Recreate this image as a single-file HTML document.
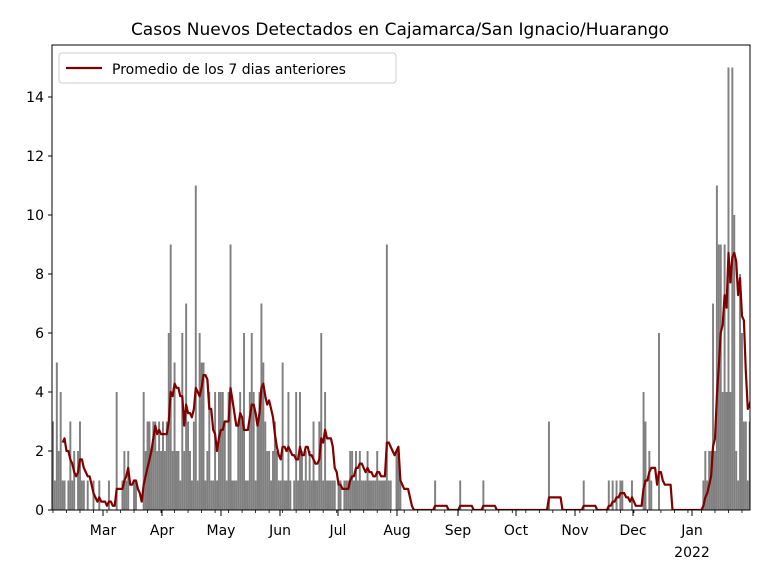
<!DOCTYPE html>
<html><head><meta charset="utf-8"><style>
body{margin:0;background:#fff;font-family:"Liberation Sans","DejaVu Sans",sans-serif}
</style></head><body>
<svg id="s" width="768" height="576" xmlns="http://www.w3.org/2000/svg" font-family="DejaVu Sans, Liberation Sans, sans-serif">
<defs><clipPath id="c"><rect x="52" y="45" width="698" height="465"/></clipPath></defs>
<rect width="768" height="576" fill="#fff"/>
<text x="400" y="35" font-size="17" text-anchor="middle">Casos Nuevos Detectados en Cajamarca/San Ignacio/Huarango</text>
<g clip-path="url(#c)">
<g id="bars" fill="#808080"></g>
<polyline id="avg" fill="none" stroke="#800000" stroke-width="2.2" stroke-linejoin="round"/>
</g>
<rect x="52" y="45" width="698" height="465" fill="none" stroke="#000" stroke-width="1"/>
<g id="ticks" font-size="14"></g>
<rect x="59" y="53" width="337" height="30" rx="3" fill="#fff" fill-opacity="0.8" stroke="#ccc"/>
<line x1="66" y1="68" x2="102" y2="68" stroke="#800000" stroke-width="2.2"/>
<text x="112" y="74" font-size="14">Promedio de los 7 dias anteriores</text>
</svg>
<script>
var d=[].concat(
[3,1,5,2,4,1,1,0,1,3,1,2,0,2,3,1,1,0,1,0,0,1,0,0,1,0,0],
[0,0,1,0,0,0,4,0,0,1,2,1,2,0,0,1,1,0,0,0,4,2,3,3,2,3,3,2,3,2,3],
[2,3,6,9,2,5,2,2,1,6,2,7,3,2,1,3,11,1,6,5,5,1,2,4,1,1,4,1,4,4],
[4,3,1,4,9,1,1,1,3,4,3,6,1,1,4,6,4,1,3,4,7,5,3,2,2,1,2,3,2,1,1],
[5,1,1,4,1,0,1,4,1,4,2,1,2,1,2,1,3,1,1,3,6,1,4,1,1,1,1,1,0,1],
[1,0,1,1,1,2,2,1,2,1,2,1,1,1,2,1,1,1,1,2,1,1,1,1,9,1,1,0,0,2,2],
[1,0,0,0,0,0,0,0,0,0,0,0,0,0,0,0,0,0,1,0,0,0,0,0,0,0,0,0,0,0,0],
[1,0,0,0,0,0,0,0,0,0,0,0,1,0,0,0,0,0,0,0,0,0,0,0,0,0,0,0,0,0],
[0,0,0,0,0,0,0,0,0,0,0,0,0,0,0,0,3,0,0,0,0,0,0,0,0,0,0,0,0,0,0],
[0,0,0,1,0,0,0,0,0,0,0,0,0,0,0,0,1,0,1,0,1,0,1,1,0,0,0,0,1,0],
[0,0,0,0,4,3,0,2,1,0,0,0,6,0,0,0,0,0,0,0,0,0,0,0,0,0,0,0,0,0,0],
[0,0,0,0,1,2,1,2,2,7,2,11,9,9,4,9,4,15,4,15,10,2,1,8,6,3,3,1,3,3]);
var X0=52,dx=1.93,Y0=510,k=29.5,ns="http://www.w3.org/2000/svg";
var g=document.getElementById('bars'),pts=[];
d.forEach(function(v,i){if(v>0){var r=document.createElementNS(ns,'rect');
r.setAttribute('x',X0+i*dx);r.setAttribute('width',dx*0.8+0.4);r.setAttribute('y',Y0-v*k);r.setAttribute('height',v*k);g.appendChild(r);}
if(i>=5){var s=0;for(var j=i-6;j<=i;j++)s+=(d[j]||0);s/=7;pts.push((X0+i*dx+dx/2).toFixed(1)+','+(Y0-s*k).toFixed(1));}});
document.getElementById('avg').setAttribute('points',pts.join(' '));
var t=document.getElementById('ticks'),h='';
for(var y=0;y<=14;y+=2){var yy=Y0-y*k;h+='<line x1="48" x2="52" y1="'+yy+'" y2="'+yy+'" stroke="#000"/><text x="44" y="'+(yy+5)+'" text-anchor="end">'+y+'</text>';}
var m=[["Mar",103],["Apr",162],["May",221],["Jun",280],["Jul",338],["Aug",397],["Sep",458],["Oct",516],["Nov",575],["Dec",633],["Jan",692]];
m.forEach(function(a){h+='<line x1="'+a[1]+'" x2="'+a[1]+'" y1="510" y2="516" stroke="#000"/><text x="'+a[1]+'" y="535" text-anchor="middle">'+a[0]+'</text>';});
for(var i=0;i<d.length;i+=7){var xx=X0+i*dx+dx/2;h+='<line x1="'+xx+'" x2="'+xx+'" y1="510" y2="513" stroke="#000" stroke-width="0.8"/>';}
h+='<text x="692" y="557" text-anchor="middle">2022</text>';
t.innerHTML=h;
</script>
</body></html>
